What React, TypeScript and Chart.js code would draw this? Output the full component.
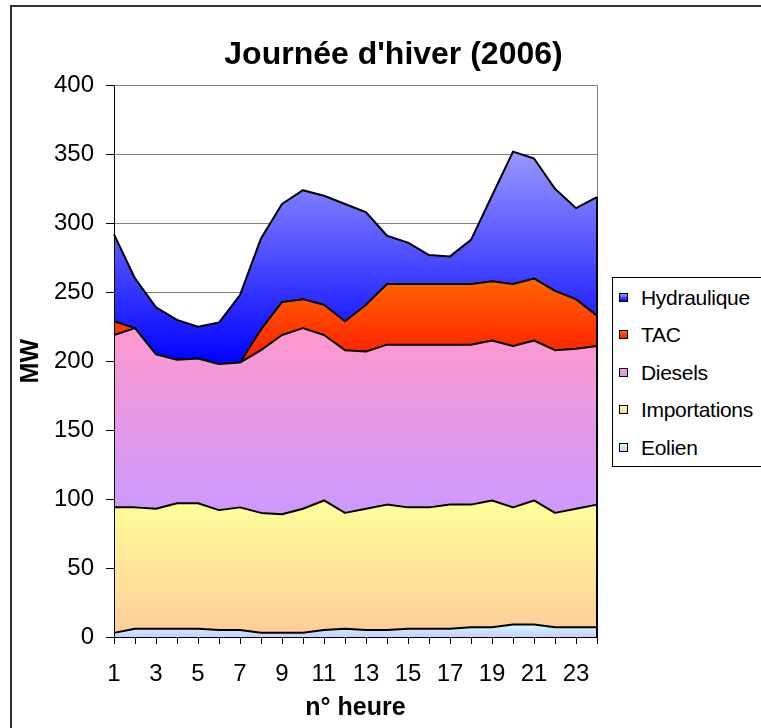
import React, { useEffect, useRef } from 'react';
import { Chart, registerables } from 'chart.js';

Chart.register(...registerables);

const FONT = '"Liberation Sans", Arial, Helvetica, sans-serif';

const hours = ['1', '2', '3', '4', '5', '6', '7', '8', '9', '10', '11', '12', '13', '14', '15', '16', '17', '18', '19', '20', '21', '22', '23', '24'];

const eolien = [3, 6, 6, 6, 6, 5, 5, 3, 3, 3, 5, 6, 5, 5, 6, 6, 6, 7, 7, 9, 9, 7, 7, 7];
const importations = [91, 88, 87, 91, 91, 87, 89, 87, 86, 90, 94, 84, 88, 91, 88, 88, 90, 89, 92, 85, 90, 83, 86, 89];
const diesels = [125, 130, 112, 104, 105, 106, 105, 118, 130, 131, 120, 118, 114, 116, 118, 118, 116, 116, 116, 117, 116, 118, 116, 115];
const tac = [10, 0, 0, 0, 0, 0, 0, 15, 24, 21, 22, 21, 34, 44, 44, 44, 44, 44, 43, 45, 45, 43, 36, 22];
const hydraulique = [63, 36, 34, 29, 23, 30, 49, 66, 71, 79, 79, 85, 67, 35, 30, 21, 20, 32, 62, 96, 87, 74, 66, 86];

const seriesNames = ['Eolien', 'Importations', 'Diesels', 'TAC', 'Hydraulique'];
const seriesData = [eolien, importations, diesels, tac, hydraulique];
const gradTop = ['#ccffff', '#ffff99', '#ff99cc', '#ff6600', '#9999ff'];
const gradBottom = ['#ccccff', '#ffcc99', '#cc99ff', '#ff1a00', '#0000ff'];

const yTicks = [0, 50, 100, 150, 200, 250, 300, 350, 400];

const chartTitle = "Journée d'hiver (2006)";
const xTitle = 'n° heure';
const yTitle = 'MW';

// cumulative stacks (for gradient extents)
const cumul: number[][] = [];
seriesData.forEach((d, i) => {
  cumul.push(d.map((v, j) => v + (i > 0 ? cumul[i - 1][j] : 0)));
});

const plotFrame = {
  id: 'plotFrame',
  afterDatasetsDraw(chart: any) {
    const { ctx, chartArea: a, scales } = chart;
    const y = scales.y;
    ctx.save();
    ctx.strokeStyle = '#808080';
    ctx.lineWidth = 1;
    ctx.beginPath();
    ctx.moveTo(a.right + 0.5, a.top);
    ctx.lineTo(a.right + 0.5, a.bottom);
    ctx.stroke();
    const top = cumul[cumul.length - 1];
    const last = top[top.length - 1];
    ctx.strokeStyle = '#000';
    ctx.lineWidth = 2;
    ctx.beginPath();
    ctx.moveTo(a.right, y.getPixelForValue(last));
    ctx.lineTo(a.right, a.bottom);
    ctx.stroke();
    ctx.restore();
  },
};

export default function App() {
  const ref = useRef<HTMLCanvasElement | null>(null);

  useEffect(() => {
    if (!ref.current) return;
    const datasets = seriesData.map((d, i) => ({
      label: seriesNames[i],
      data: d,
      fill: i === 0 ? 'origin' : '-1',
      borderColor: '#000000',
      borderWidth: 2,
      borderJoinStyle: 'round' as const,
      pointRadius: 0,
      pointHoverRadius: 0,
      tension: 0,
      backgroundColor: (c: any) => {
        const chart = c.chart;
        const y = chart.scales && chart.scales.y;
        if (!y || !chart.chartArea) return gradTop[i];
        const topVal = Math.max(...cumul[i]);
        const baseVal = i === 0 ? 0 : Math.min(...cumul[i - 1]);
        const y0 = y.getPixelForValue(topVal);
        const y1 = y.getPixelForValue(baseVal);
        if (!isFinite(y0) || !isFinite(y1) || y0 === y1) return gradTop[i];
        const g = chart.ctx.createLinearGradient(0, y0, 0, y1);
        g.addColorStop(0, gradTop[i]);
        g.addColorStop(1, gradBottom[i]);
        return g;
      },
    }));

    const chart = new Chart(ref.current, {
      type: 'line',
      data: { labels: hours, datasets: datasets as any },
      plugins: [plotFrame],
      options: {
        responsive: false,
        animation: false,
        events: [],
        layout: { padding: { left: 11, right: 0, top: 6, bottom: 0 } },
        plugins: {
          legend: { display: false },
          tooltip: { enabled: false },
          title: {
            display: true,
            text: chartTitle,
            color: '#000',
            font: { family: FONT, size: 32, weight: 'bold' },
            padding: { top: 30, bottom: 11 },
          },
          filler: { propagate: false },
        },
        scales: {
          x: {
            type: 'category',
            offset: false,
            grid: { display: true, drawOnChartArea: false, drawTicks: true, tickLength: 7, tickColor: '#000' },
            border: { display: true, color: '#000', width: 1, z: 1 },
            ticks: {
              autoSkip: false,
              maxRotation: 0,
              minRotation: 0,
              padding: 16,
              color: '#000',
              font: { family: FONT, size: 24 },
              callback: (_v: any, idx: number) => (idx % 2 === 0 ? hours[idx] : ''),
            },
            title: {
              display: true,
              text: xTitle,
              color: '#000',
              font: { family: FONT, size: 25, weight: 'bold' },
              padding: { top: 0, bottom: 17 },
            },
            afterFit: (s: any) => {
              s.height = 103;
            },
          },
          y: {
            type: 'linear',
            stacked: true,
            min: 0,
            max: 400,
            position: 'left',
            grid: { color: '#808080', lineWidth: 1, drawTicks: true, tickLength: 8, tickColor: '#000' },
            border: { display: true, color: '#000', width: 1, z: 1 },
            afterBuildTicks: (s: any) => {
              s.ticks = yTicks.map((v) => ({ value: v }));
            },
            ticks: {
              padding: 12,
              color: '#000',
              font: { family: FONT, size: 24 },
            },
            title: {
              display: true,
              text: yTitle,
              color: '#000',
              font: { family: FONT, size: 25, weight: 'bold' },
              padding: { top: 5, bottom: 0 },
            },
            afterFit: (s: any) => {
              s.width = 103;
            },
          },
          yRight: {
            type: 'linear',
            position: 'right',
            display: true,
            grid: { display: false, drawTicks: false },
            border: { display: false },
            ticks: { display: false },
            afterFit: (s: any) => {
              s.width = 179;
            },
          },
        },
      } as any,
    });
    return () => chart.destroy();
  }, []);

  const legendItems = seriesNames.map((n, i) => ({ name: n, i })).reverse();

  return (
    <div style={{ position: 'absolute', left: 0, top: 0, width: 761, height: 728, overflow: 'hidden', background: '#fff' }}>
      <div style={{ position: 'absolute', left: 0, top: 0, width: 776, height: 740 }}>
        <canvas ref={ref} width={776} height={740} style={{ display: 'block', width: 776, height: 740 }} />
      </div>
      <div
        style={{
          position: 'absolute',
          left: 10,
          top: 5,
          width: 820,
          height: 820,
          border: '2px solid #333',
          pointerEvents: 'none',
        }}
      />
      <div
        style={{
          position: 'absolute',
          left: 612,
          top: 277,
          width: 200,
          height: 190,
          border: '1px solid #000',
          background: '#fff',
          boxSizing: 'border-box',
          fontFamily: FONT,
          fontSize: 21,
          color: '#000',
        }}
      >
        {legendItems.map((it, k) => (
          <div
            key={it.name}
            style={{
              position: 'absolute',
              left: 0,
              top: 19 + k * 37.5,
              height: 0,
              width: '100%',
            }}
          >
            <div
              style={{
                position: 'absolute',
                left: 6,
                top: -4.5,
                width: 9,
                height: 9,
                boxSizing: 'border-box',
                border: '1.5px solid #000',
                background: `linear-gradient(${gradTop[it.i]}, ${gradBottom[it.i]})`,
              }}
            />
            <div
              style={{
                position: 'absolute',
                left: 28,
                top: -12.5,
                lineHeight: '25px',
                whiteSpace: 'nowrap',
                letterSpacing: '-0.3px',
              }}
            >
              {it.name}
            </div>
          </div>
        ))}
      </div>
    </div>
  );
}
